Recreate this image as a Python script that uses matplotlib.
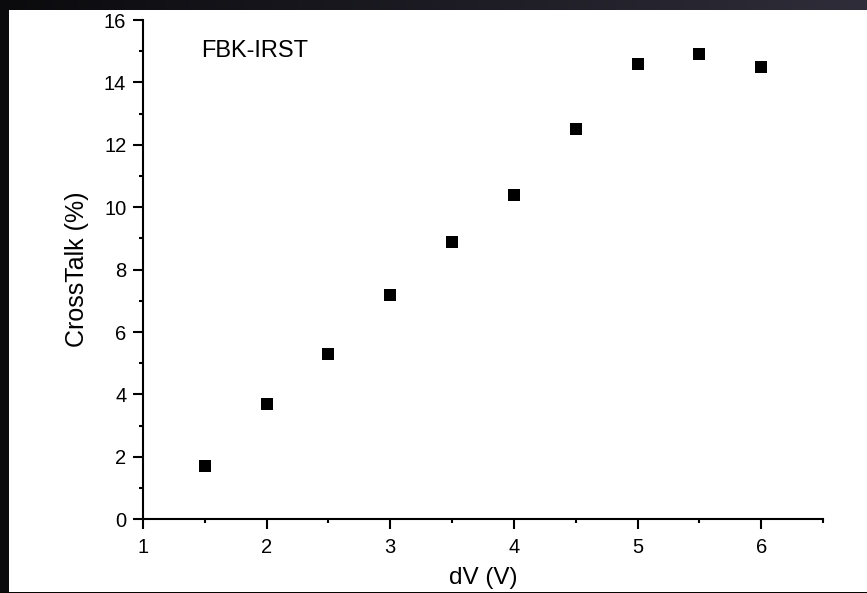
import numpy as np
import matplotlib.pyplot as plt
from matplotlib.patches import Rectangle
from matplotlib.colors import LinearSegmentedColormap
from matplotlib.ticker import MultipleLocator

plt.rcParams['font.family'] = ['Liberation Sans', 'DejaVu Sans']

# crosstalk vs overvoltage
dV = [1.5, 2.0, 2.5, 3.0, 3.5, 4.0, 4.5, 5.0, 5.5, 6.0]
crosstalk = [1.7, 3.7, 5.3, 7.2, 8.9, 10.4, 12.5, 14.6, 14.9, 14.5]

W, H = 867, 593
fig = plt.figure(figsize=(W / 100, H / 100), dpi=100)
fig.patch.set_facecolor('#0c0c10')

# dark slide backdrop with a slight left-to-right shading
bg = fig.add_axes([0, 0, 1, 1], zorder=-10)
cmap = LinearSegmentedColormap.from_list('slide', ['#0b0b0e', '#1c1b23', '#2f2d39'])
bg.imshow(np.linspace(0, 1, 256)[None, :], cmap=cmap, aspect='auto', extent=[0, 1, 0, 1])
bg.set_axis_off()

# white plotting page
fig.patches.append(Rectangle((9 / W, 1.5 / H), 1 - 9 / W, (583 - 1.5) / H,
                             transform=fig.transFigure, facecolor='white',
                             edgecolor='none', zorder=-5))
fig.patches.append(Rectangle((0, 0), 1, 1.5 / H, transform=fig.transFigure,
                             facecolor='#050506', edgecolor='none', zorder=10))

ax_h = 519.3 - 20
ax_w = 823 - 143
ax = fig.add_axes([143 / W, 1 - 519.3 / H, ax_w / W, ax_h / H])
ax.set_facecolor('none')
ax.plot(dV, crosstalk, linestyle='none', marker='s', markersize=8,
        color='black', markeredgewidth=0)

ax.set_xlim(1, 6.5)
ax.set_ylim(0, 16)
ax.xaxis.set_major_locator(MultipleLocator(1))
ax.xaxis.set_minor_locator(MultipleLocator(0.5))
ax.yaxis.set_major_locator(MultipleLocator(2))
ax.yaxis.set_minor_locator(MultipleLocator(1))

for side in ['top', 'right']:
    ax.spines[side].set_visible(False)
for side in ['left', 'bottom']:
    ax.spines[side].set_linewidth(1.5)

ax.tick_params(which='major', direction='out', length=7, width=1.5, labelsize=14.5)
ax.tick_params(axis='x', which='major', pad=6.5)
ax.tick_params(axis='y', which='major', pad=5)
ax.tick_params(which='minor', direction='out', length=3, width=1.5)

ax.set_xlabel('dV (V)', fontsize=17.5, va='baseline')
ax.xaxis.set_label_coords(0.5, -(584 - 519.3) / ax_h)
ax.set_ylabel('CrossTalk (%)', fontsize=18, va='center')
ax.yaxis.set_label_coords(-(143 - 77) / ax_w, 0.5)

ax.text(1.47, 14.83, 'FBK-IRST', fontsize=17, ha='left', va='baseline')

fig.savefig('out.png', dpi=100, facecolor=fig.get_facecolor())
